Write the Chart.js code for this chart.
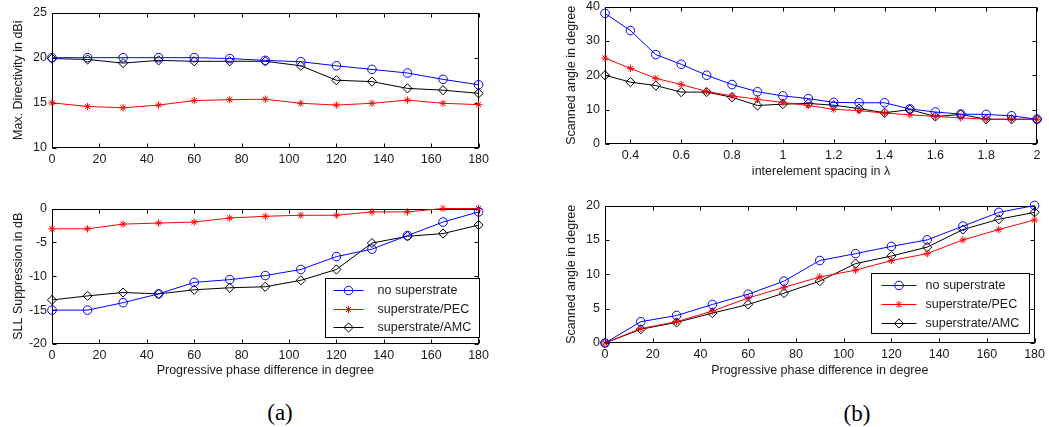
<!DOCTYPE html>
<html>
<head>
<meta charset="utf-8">
<script src="https://cdn.jsdelivr.net/npm/chart.js@4.4.1/dist/chart.umd.min.js"></script>
<style>
  html, body { margin: 0; padding: 0; background: #fff; }
  body { width: 1049px; height: 427px; position: relative; overflow: hidden; }
  canvas { position: absolute; }
  .tag { position: absolute; width: 60px; text-align: center; line-height: 24px;
         font-family: "Liberation Serif", "Times New Roman", serif; font-size: 23px; color: #000; }
</style>
</head>
<body>
<canvas id="dirChart" width="493" height="168" style="left:0px;top:0px"></canvas>
<canvas id="sllChart" width="493" height="182" style="left:0px;top:196px"></canvas>
<canvas id="spacingChart" width="489" height="185" style="left:560px;top:-6px"></canvas>
<canvas id="phaseChart" width="489" height="185" style="left:560px;top:193px"></canvas>
<div class="tag" style="left:250px;top:401px">(a)</div>
<div class="tag" style="left:827px;top:402px">(b)</div>
<script>
// x values
const phaseDeg = [0, 15, 30, 45, 60, 75, 90, 105, 120, 135, 150, 165, 180];
const spacingLambda = [0.3, 0.4, 0.5, 0.6, 0.7, 0.8, 0.9, 1.0, 1.1, 1.2, 1.3, 1.4, 1.5, 1.6, 1.7, 1.8, 1.9, 2.0];

const seriesNames = ['no superstrate', 'superstrate/PEC', 'superstrate/AMC'];

// (a) top: max directivity (dBi)
const dirNoSup = [20, 20, 20, 20, 20, 19.9, 19.7, 19.55, 19.1, 18.7, 18.3, 17.6, 17.0];
const dirPEC   = [15, 14.6, 14.45, 14.75, 15.25, 15.35, 15.4, 14.95, 14.75, 14.95, 15.3, 14.95, 14.8];
const dirAMC   = [19.9, 19.8, 19.4, 19.7, 19.6, 19.6, 19.6, 19.1, 17.5, 17.35, 16.6, 16.4, 16.05];

// (a) bottom: SLL suppression (dB)
const sllNoSup = [-15, -15, -13.9, -12.6, -10.9, -10.5, -9.9, -9.0, -7.1, -6.0, -4.0, -2.0, -0.5];
const sllPEC   = [-3, -3, -2.3, -2.15, -2.0, -1.4, -1.15, -1.0, -1.0, -0.5, -0.5, 0, 0];
const sllAMC   = [-13.5, -12.9, -12.4, -12.6, -12.0, -11.7, -11.55, -10.6, -9.0, -5.1, -4.1, -3.7, -2.45];

// (b) top: scanned angle vs spacing
const scanSpNoSup = [38, 33, 26, 23.2, 20, 17.3, 15.2, 14, 13.2, 12.1, 12, 12, 10.2, 9.3, 8.7, 8.6, 8.2, 7.2];
const scanSpPEC   = [25, 22, 19.1, 17.3, 15.3, 14, 13, 12.1, 11.2, 10.1, 9.7, 9, 8.5, 8, 7.6, 7.2, 7.2, 7.2];
const scanSpAMC   = [20, 18, 17, 15.1, 15.1, 13.6, 11.2, 11.6, 11.8, 11.3, 10.3, 9.1, 10, 8, 8.6, 7.2, 7.2, 7.2];

// (b) bottom: scanned angle vs phase
const scanPhNoSup = [0, 3.1, 4.0, 5.6, 7.1, 9.0, 12.0, 13.0, 14.05, 15, 17, 19, 20];
const scanPhPEC   = [0, 2.1, 3.1, 4.65, 6.55, 8.1, 9.6, 10.6, 12, 13, 15, 16.5, 17.9];
const scanPhAMC   = [0, 2, 3, 4.35, 5.6, 7.25, 9.0, 11.55, 12.65, 13.95, 16.5, 18, 19];

// tick labels
const phaseTicks = [0, 20, 40, 60, 80, 100, 120, 140, 160, 180];
const spacingTicks = [0.4, 0.6, 0.8, 1, 1.2, 1.4, 1.6, 1.8, 2];
const dirTicks = [10, 15, 20, 25];
const sllTicks = [-20, -15, -10, -5, 0];
const scanSpTicks = [0, 10, 20, 30, 40];
const scanPhTicks = [0, 5, 10, 15, 20];

const FONT = { family: '"Liberation Sans", Arial, Helvetica, sans-serif', size: 12.5 };
const TEXT_COLOR = '#1a1a1a';

const seriesStyles = [
    { color: '#0000ff', pointStyle: 'circle', radius: 4.3 },
    { color: '#ff0000', pointStyle: 'star', radius: 3.6 },
    { color: '#000000', pointStyle: 'rectRot', radius: 4.6 }
];

function buildDatasets(xs, series) {
    return series.map((ys, i) => ({
        label: seriesNames[i],
        data: xs.map((x, j) => ({ x: x, y: ys[j] })),
        borderColor: seriesStyles[i].color,
        borderWidth: 1,
        pointStyle: seriesStyles[i].pointStyle,
        pointRadius: seriesStyles[i].radius,
        pointBorderColor: seriesStyles[i].color,
        pointBackgroundColor: 'rgba(0,0,0,0)',
        pointBorderWidth: 1,
        tension: 0,
        fill: false,
        clip: false
    }));
}

// MATLAB-like box with inward tick marks
const matlabAxes = {
    id: 'matlabAxes',
    beforeDatasetsDraw(chart) {
        const { ctx, chartArea: a, scales } = chart;
        const L = Math.round(a.left) + 0.5, R = Math.round(a.right) - 0.5;
        const T = Math.round(a.top) + 0.5, B = Math.round(a.bottom) - 0.5;
        ctx.save();
        ctx.strokeStyle = '#000';
        ctx.lineWidth = 1;
        ctx.beginPath();
        scales.x.ticks.forEach(t => {
            const px = Math.round(scales.x.getPixelForValue(t.value)) + 0.5;
            ctx.moveTo(px, B); ctx.lineTo(px, B - 4);
            ctx.moveTo(px, T); ctx.lineTo(px, T + 4);
        });
        scales.y.ticks.forEach(t => {
            const py = Math.round(scales.y.getPixelForValue(t.value)) + 0.5;
            ctx.moveTo(L, py); ctx.lineTo(L + 4, py);
            ctx.moveTo(R, py); ctx.lineTo(R - 4, py);
        });
        ctx.stroke();
        ctx.strokeRect(L, T, R - L, B - T);
        ctx.restore();
    }
};

// boxed legend inside the axes
const boxLegend = {
    id: 'boxLegend',
    afterDatasetsDraw(chart, args, opts) {
        if (!opts || !opts.show) return;
        const { ctx, chartArea: a } = chart;
        const left = Math.round(a.right - opts.right - opts.w) + 0.5;
        const top = Math.round(a.bottom - opts.bottom - opts.h) + 0.5;
        ctx.save();
        ctx.fillStyle = '#fff';
        ctx.fillRect(left, top, opts.w, opts.h);
        ctx.strokeStyle = '#000';
        ctx.lineWidth = 1;
        ctx.strokeRect(left, top, opts.w, opts.h);
        chart.data.datasets.forEach((ds, i) => {
            const y = Math.round(top + opts.row0 + i * opts.rowGap) + 0.5;
            ctx.strokeStyle = ds.borderColor;
            ctx.beginPath();
            ctx.moveTo(left + opts.lineFrom, y);
            ctx.lineTo(left + opts.lineTo, y);
            ctx.stroke();
            ctx.fillStyle = 'rgba(0,0,0,0)';
            Chart.helpers.drawPoint(ctx, {
                pointStyle: ds.pointStyle, radius: ds.pointRadius, borderWidth: 1, rotation: 0
            }, left + (opts.lineFrom + opts.lineTo) / 2, y);
            ctx.fillStyle = TEXT_COLOR;
            ctx.font = FONT.size + 'px ' + FONT.family;
            ctx.textBaseline = 'middle';
            ctx.textAlign = 'left';
            ctx.fillText(ds.label, left + opts.textX, y + 0.5);
        });
        ctx.restore();
    }
};

function makeChart(id, o) {
    const canvas = document.getElementById(id);
    return new Chart(canvas, {
        type: 'line',
        data: { datasets: buildDatasets(o.xs, o.series) },
        options: {
            responsive: false,
            animation: false,
            layout: { padding: { left: 0, top: 10, right: o.padRight, bottom: 0 } },
            plugins: {
                legend: { display: false },
                tooltip: { enabled: false },
                boxLegend: o.legend || { show: false }
            },
            scales: {
                x: {
                    type: 'linear',
                    min: o.xMin,
                    max: o.xMax,
                    grid: { display: false, drawTicks: false },
                    border: { display: false },
                    afterBuildTicks: s => { s.ticks = o.xTicks.map(v => ({ value: v })); },
                    afterFit: s => { s.height = o.xHeight; },
                    ticks: {
                        font: FONT, color: TEXT_COLOR, padding: 4,
                        maxRotation: 0, autoSkip: false,
                        callback: v => String(v)
                    },
                    title: {
                        display: !!o.xTitle, text: o.xTitle || '',
                        font: FONT, color: TEXT_COLOR, padding: { top: 0, bottom: 0 }
                    }
                },
                y: {
                    type: 'linear',
                    min: o.yMin,
                    max: o.yMax,
                    grid: { display: false, drawTicks: false },
                    border: { display: false },
                    afterBuildTicks: s => { s.ticks = o.yTicks.map(v => ({ value: v })); },
                    afterFit: s => { s.width = o.yWidth; },
                    ticks: {
                        font: FONT, color: TEXT_COLOR, padding: 5,
                        autoSkip: false,
                        callback: v => String(v)
                    },
                    title: {
                        display: true, text: o.yTitle,
                        font: FONT, color: TEXT_COLOR, padding: { top: o.yTitlePad, bottom: 0 }
                    }
                }
            }
        },
        plugins: [matlabAxes, boxLegend]
    });
}

makeChart('dirChart', {
    xs: phaseDeg, series: [dirNoSup, dirPEC, dirAMC],
    xMin: 0, xMax: 180, xTicks: phaseTicks,
    yMin: 10, yMax: 25, yTicks: dirTicks,
    yTitle: 'Max. Directivity in dBi', yTitlePad: 11,
    yWidth: 52, xHeight: 20, padRight: 14
});

makeChart('sllChart', {
    xs: phaseDeg, series: [sllNoSup, sllPEC, sllAMC],
    xMin: 0, xMax: 180, xTicks: phaseTicks,
    yMin: -20, yMax: 0, yTicks: sllTicks,
    xTitle: 'Progressive phase difference in degree',
    yTitle: 'SLL Suppression in dB', yTitlePad: 11,
    yWidth: 52, xHeight: 34, padRight: 14,
    legend: { show: true, right: 0, bottom: 7, w: 154, h: 59,
              row0: 11.5, rowGap: 18.5, lineFrom: 8, lineTo: 38, textX: 52 }
});

makeChart('spacingChart', {
    xs: spacingLambda, series: [scanSpNoSup, scanSpPEC, scanSpAMC],
    xMin: 0.3, xMax: 2, xTicks: spacingTicks,
    yMin: 0, yMax: 40, yTicks: scanSpTicks,
    xTitle: 'interelement spacing in λ',
    yTitle: 'Scanned angle in degree', yTitlePad: 4,
    yWidth: 45, xHeight: 35, padRight: 12
});

makeChart('phaseChart', {
    xs: phaseDeg, series: [scanPhNoSup, scanPhPEC, scanPhAMC],
    xMin: 0, xMax: 180, xTicks: phaseTicks,
    yMin: 0, yMax: 20, yTicks: scanPhTicks,
    xTitle: 'Progressive phase difference in degree',
    yTitle: 'Scanned angle in degree', yTitlePad: 4,
    yWidth: 45, xHeight: 35, padRight: 12,
    legend: { show: true, right: 6, bottom: 10, w: 158, h: 60,
              row0: 11.5, rowGap: 19, lineFrom: 10, lineTo: 45, textX: 54 }
});
</script>
</body>
</html>
